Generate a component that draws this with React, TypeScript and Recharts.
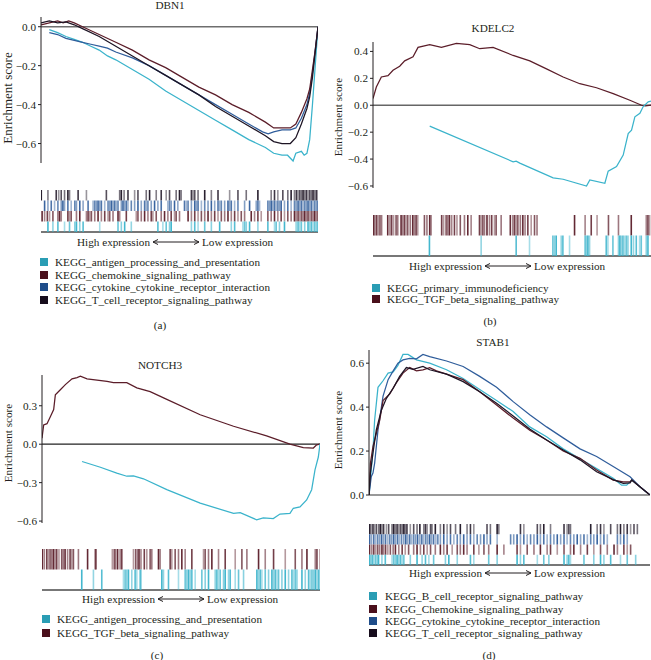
import React from 'react';
import { LineChart, Line, XAxis, YAxis, ReferenceLine, ScatterChart, Scatter } from 'recharts';

// x = position in the ranked gene list (% of list), y = running enrichment score
type Pt = [number, number];

const DBN1_ANTIGEN: Pt[] = [[3, -0.015], [6, -0.03], [9, -0.05], [12, -0.065], [15, -0.08], [18, -0.1], [21, -0.12], [24, -0.15], [27, -0.17], [33, -0.22], [39, -0.27], [45, -0.33], [51, -0.38], [57, -0.43], [63, -0.48], [69, -0.53], [75, -0.58], [81, -0.62], [84, -0.65], [87, -0.66], [89, -0.66], [91, -0.69], [92, -0.65], [94, -0.64], [95, -0.66], [96, -0.65], [97, -0.58], [98, -0.4], [99, -0.2], [100, 0]];
const DBN1_CHEMOKINE: Pt[] = [[0, 0.01], [3, 0.02], [6, 0.03], [8, 0.02], [10, 0.03], [12, 0.02], [15, 0], [21, -0.04], [27, -0.08], [33, -0.12], [39, -0.17], [45, -0.21], [51, -0.26], [57, -0.31], [63, -0.35], [69, -0.4], [75, -0.44], [81, -0.49], [84, -0.52], [87, -0.52], [90, -0.52], [92, -0.5], [94, -0.44], [96, -0.37], [97, -0.32], [98, -0.22], [99, -0.12], [100, 0]];
const DBN1_CYTOKINE: Pt[] = [[3, -0.03], [6, -0.04], [9, -0.06], [12, -0.07], [15, -0.08], [18, -0.09], [21, -0.1], [24, -0.11], [27, -0.13], [33, -0.16], [39, -0.2], [45, -0.25], [51, -0.3], [57, -0.35], [63, -0.4], [69, -0.45], [75, -0.5], [80, -0.54], [82, -0.55], [84, -0.54], [87, -0.53], [90, -0.53], [92, -0.52], [94, -0.47], [96, -0.4], [97, -0.34], [98, -0.24], [99, -0.12], [100, 0]];
const DBN1_TCELL: Pt[] = [[0, 0.02], [3, 0.03], [6, 0.02], [9, 0.025], [12, 0.01], [15, -0.01], [21, -0.05], [27, -0.1], [33, -0.15], [39, -0.2], [45, -0.25], [51, -0.3], [57, -0.35], [63, -0.41], [69, -0.46], [75, -0.51], [81, -0.56], [84, -0.59], [87, -0.6], [90, -0.6], [92, -0.57], [94, -0.5], [96, -0.42], [97, -0.36], [98, -0.26], [99, -0.13], [100, 0]];

const KDELC2_IMMUNO: Pt[] = [[20.4, -0.155], [50.4, -0.42], [51.5, -0.415], [52.8, -0.43], [64.8, -0.54], [68.4, -0.55], [76.8, -0.6], [78, -0.555], [83.4, -0.58], [84.6, -0.49], [87.6, -0.455], [90, -0.37], [91.8, -0.21], [93, -0.185], [94.2, -0.086], [96, -0.06], [97.2, -0.01], [99, 0.025], [100, 0.03]];
const KDELC2_TGF: Pt[] = [[0, 0.05], [1.2, 0.135], [3, 0.21], [5.4, 0.22], [7.2, 0.26], [9.6, 0.29], [11.4, 0.33], [14.4, 0.36], [16.2, 0.43], [20.4, 0.45], [24.6, 0.43], [30, 0.46], [34.8, 0.45], [38.4, 0.42], [43.2, 0.43], [50.4, 0.37], [56.4, 0.33], [62.4, 0.27], [68.4, 0.21], [74.4, 0.16], [80.4, 0.13], [86.4, 0.086], [92.4, 0.037], [96.6, 0], [98, -0.005], [100, 0]];

const NOTCH3_ANTIGEN: Pt[] = [[14.4, -0.135], [21, -0.18], [26.9, -0.226], [30.5, -0.25], [32.9, -0.247], [36.5, -0.27], [44.9, -0.355], [56.9, -0.46], [68.9, -0.54], [71.3, -0.535], [77.2, -0.59], [79.6, -0.575], [83.2, -0.58], [85.6, -0.545], [89.2, -0.54], [90.4, -0.5], [92.8, -0.49], [95.2, -0.435], [97, -0.355], [98.2, -0.2], [99.4, -0.1], [100, 0]];
const NOTCH3_TGF: Pt[] = [[0, 0.047], [0.6, 0.15], [1.8, 0.16], [3, 0.215], [4.2, 0.27], [4.8, 0.385], [6.6, 0.425], [8.4, 0.465], [10.8, 0.51], [12.6, 0.52], [13.8, 0.53], [16.2, 0.51], [19.8, 0.5], [23.4, 0.49], [25.7, 0.48], [30.5, 0.48], [34.1, 0.44], [38.9, 0.41], [44.9, 0.35], [56.9, 0.23], [68.9, 0.14], [80.8, 0.065], [89.2, 0], [94, -0.026], [97.6, -0.03], [98.8, -0.005], [100, 0]];

const STAB1_BCELL: Pt[] = [[0, 0], [0.8, 0.115], [1.4, 0.2], [2, 0.34], [3.2, 0.49], [5, 0.52], [6.8, 0.555], [8.6, 0.56], [10.3, 0.59], [12.1, 0.64], [13.9, 0.64], [16.9, 0.615], [21.6, 0.6], [27.6, 0.57], [33.5, 0.53], [39.4, 0.48], [45.4, 0.43], [51.3, 0.38], [57.2, 0.31], [63.2, 0.265], [69.1, 0.21], [75.1, 0.165], [81, 0.12], [86.9, 0.076], [89.9, 0.045], [91.7, 0.045], [93.5, 0.068], [96.4, 0.038], [100, 0]];
const STAB1_CHEMOKINE: Pt[] = [[0, 0], [0.5, 0.144], [1.4, 0.22], [2.6, 0.28], [3.8, 0.34], [5, 0.43], [7.4, 0.46], [9.7, 0.51], [12.1, 0.555], [14.5, 0.58], [16.9, 0.565], [19.2, 0.57], [21.6, 0.58], [24, 0.565], [27.6, 0.55], [33.5, 0.525], [39.4, 0.47], [45.4, 0.41], [51.3, 0.35], [57.2, 0.295], [63.2, 0.25], [69.1, 0.2], [75.1, 0.167], [81, 0.114], [86.9, 0.068], [90.5, 0.06], [92.9, 0.06], [93.5, 0.068], [96.4, 0.038], [100, 0]];
const STAB1_CYTOKINE: Pt[] = [[0, 0], [0.8, 0.083], [1.4, 0.1], [2, 0.144], [3.2, 0.296], [5, 0.45], [6.8, 0.525], [8.6, 0.565], [10.3, 0.6], [12.1, 0.615], [14.5, 0.622], [16.9, 0.62], [19.2, 0.64], [21.6, 0.63], [27.6, 0.61], [33.5, 0.585], [39.4, 0.54], [45.4, 0.49], [51.3, 0.425], [57.2, 0.365], [63.2, 0.31], [69.1, 0.26], [75.1, 0.21], [81, 0.175], [86.9, 0.13], [92.9, 0.083], [96.4, 0.038], [100, 0]];
const STAB1_TCELL: Pt[] = [[0, 0], [0.5, 0.1], [1.4, 0.19], [2.6, 0.296], [4.4, 0.386], [6.2, 0.44], [8.6, 0.486], [10.9, 0.54], [13.3, 0.58], [15.7, 0.572], [19.2, 0.585], [21.6, 0.57], [27.6, 0.55], [33.5, 0.516], [39.4, 0.47], [45.4, 0.418], [51.3, 0.36], [57.2, 0.3], [63.2, 0.25], [69.1, 0.205], [75.1, 0.16], [81, 0.106], [86.9, 0.07], [90.5, 0.053], [92.9, 0.055], [93.5, 0.068], [96.4, 0.038], [100, 0]];

// hit positions of each gene set in the ranked list (%)
const DBN1_HITS_TCELL = [0.1, 2.5, 5.5, 6.4, 7.3, 8.5, 9.7, 10.3, 13.4, 16.4, 23.6, 28.4, 29, 30, 31.4, 33.8, 35, 38, 39.2, 41.6, 43.4, 45.2, 46.4, 48.8, 50, 50.6, 54.3, 54.9, 55.5, 56.7, 59.1, 61.5, 63.9, 68.1, 71.1, 74.1, 78.3, 83.1, 84.3, 85.5, 87.3, 89.1, 90.3, 91.5, 92.2, 92.8, 93.4, 94, 94.6, 95.2, 95.8, 96.4, 97, 97.6, 98.2, 98.8, 99.4, 100];
const DBN1_HITS_CYTOKINE = [1.3, 2.5, 3.7, 4.9, 6.1, 7.3, 7.9, 8.5, 9.7, 10.9, 12.2, 12.8, 14, 15.2, 17, 18.8, 19.4, 20, 20.6, 21.2, 21.8, 23, 24.2, 24.8, 25.4, 26, 26.6, 27.2, 27.8, 29, 29.6, 30.2, 30.8, 31.4, 32.6, 33.8, 35, 36.2, 37.4, 38, 38.6, 39.8, 41, 42.2, 43.4, 45.8, 46.4, 47, 48.2, 49.4, 51.8, 52.5, 53.1, 54.3, 55.5, 56.1, 56.7, 57.9, 59.1, 60.3, 61.5, 62.7, 63.9, 64.5, 65.1, 66.3, 67.5, 68.1, 68.7, 69.9, 71.1, 73.5, 75.3, 77.7, 78.3, 78.9, 81.9, 82.5, 83.1, 83.7, 84.3, 84.9, 85.5, 86.1, 86.7, 87.9, 89.1, 90.3, 91.5, 92.1, 92.8, 93.4, 94, 94.6, 95.2, 95.8, 96.4, 97, 97.6, 98.2, 98.8, 99.4, 100];
const DBN1_HITS_CHEMOKINE = [0.4, 1.3, 2.3, 3.1, 4.3, 6.1, 6.7, 7.3, 9.7, 10.3, 10.9, 12.8, 14, 16.4, 17, 17.6, 18.2, 19.4, 20.6, 21.8, 23, 24.2, 24.8, 26, 27.8, 28.4, 30.8, 34.4, 35, 36.2, 37.4, 38.6, 39.8, 40.4, 41.6, 43.4, 44.6, 45.8, 47, 48.2, 48.8, 50, 53.1, 54.3, 55.5, 56.7, 57.9, 59.1, 60.3, 61.5, 62.7, 63.9, 65.1, 66.3, 67.5, 68.7, 69.9, 71.1, 72.3, 73.5, 75.9, 77.1, 78.3, 79.5, 81.9, 83.1, 84.3, 85.5, 86.7, 87.9, 89.1, 90.3, 91.5, 92.1, 92.8, 93.4, 94, 94.6, 95.2, 95.8, 96.4, 97, 97.6, 98.2, 98.8, 99.4, 100];
const DBN1_HITS_ANTIGEN = [2.5, 4.3, 6.1, 8.5, 10.3, 12.2, 12.8, 14, 15.2, 21.2, 27.8, 29, 30.2, 32.6, 42.2, 44, 45.2, 46.4, 47, 54.3, 55.5, 56.7, 59.1, 61.5, 64.5, 68.7, 69.9, 72.9, 73.5, 74.1, 75.3, 78.3, 81.9, 84.3, 84.9, 86.1, 87.9, 92.1, 92.8, 93.4, 94, 95.2, 96.4, 97, 97.6, 98.2, 98.8, 99.4, 100];

const KDELC2_HITS_TGF = [0.2, 0.7, 1.3, 1.9, 2.5, 3.1, 5.3, 6.1, 6.7, 7.4, 8.3, 8.9, 10.1, 10.7, 11.3, 11.9, 12.5, 13.4, 14.3, 14.9, 15.5, 16.1, 18.5, 19.4, 20.4, 20.9, 24.7, 25.4, 26.3, 26.9, 27.5, 28.3, 29.3, 30.2, 31.4, 32.9, 34.1, 35.3, 38.3, 38.9, 39.5, 40.1, 41, 41.9, 42.7, 43.7, 44.3, 46.1, 49.4, 50.3, 50.9, 51.5, 52.1, 53, 53.9, 54.7, 55.7, 56.9, 58.1, 59, 72.5, 76.3, 78.5, 80.6, 84.7, 88.3, 92.9, 98.3, 98.9, 99.5];
const KDELC2_HITS_IMMUNO = [20.3, 38.9, 51.5, 56.3, 64.7, 65.3, 65.9, 67.7, 68.3, 70.7, 76.3, 76.8, 77.3, 77.9, 83.9, 84.5, 86.3, 88.3, 88.8, 89.3, 89.9, 90.5, 91.1, 91.7, 92.9, 93.7, 94.7, 95.9, 96.5, 98.3, 98.9];

const NOTCH3_HITS_TGF = [0.1, 0.8, 1.7, 2.3, 2.9, 3.5, 4.1, 4.7, 5.3, 6.1, 7.1, 7.7, 8.3, 9.2, 10.1, 10.7, 11.3, 13.1, 16.4, 19.1, 19.4, 25.3, 26, 26.5, 27.2, 28.1, 28.7, 32.9, 33.7, 34.4, 34.9, 35.6, 36.8, 37.7, 38.9, 39.5, 41.9, 42.5, 46.1, 46.7, 47.9, 49.1, 50.3, 51.5, 53.9, 58.1, 58.7, 59.9, 61.1, 63.5, 65.9, 69.5, 71.9, 73.7, 77.9, 80.3, 83.3, 87.5, 91.1, 93.5, 95.3, 98.3, 98.9, 100];
const NOTCH3_HITS_ANTIGEN = [14.3, 18.5, 21.5, 29.3, 29.9, 30.5, 31.1, 32.3, 33.5, 34.1, 35.3, 35.6, 43.1, 43.7, 45.5, 49.1, 51.5, 52.1, 52.7, 53.3, 53.9, 55.1, 57.5, 58.7, 59.9, 62.3, 62.9, 63.5, 64.1, 65.3, 65.9, 67.1, 67.7, 69.5, 70.7, 72.5, 77.3, 77.9, 78.5, 79.1, 80.3, 81.5, 82.7, 83.3, 83.9, 84.5, 85.1, 86.3, 87.5, 88.7, 89.9, 90.5, 91.1, 91.7, 93.5, 94.7, 95.9, 96.5, 97.1, 97.7, 98.3, 98.9, 99.5, 100];

const STAB1_HITS_TCELL = [0.2, 0.7, 1.4, 1.9, 2.6, 3.4, 4, 4.6, 5.2, 6.2, 7, 8.2, 8.8, 9.4, 10, 10.6, 11.2, 11.8, 12.4, 12.9, 13.5, 14.7, 15.9, 17.1, 18.1, 19.5, 20.1, 20.7, 21.9, 22.4, 23.6, 25.4, 26.6, 27.8, 29, 30.8, 32.5, 34.9, 36.1, 37.3, 42, 43.2, 45.6, 46.2, 53.9, 55.1, 59.9, 61, 62.2, 64.6, 69.4, 70.5, 71.1, 71.7, 78.9, 81.2, 82.4, 83.6, 86, 88.4, 89.5, 90.7, 91.9, 93.1, 94.3, 95.5];
const STAB1_HITS_CYTOKINE = [0.2, 0.9, 1.7, 2.4, 3.1, 3.8, 4.5, 5.2, 5.9, 6.7, 7.4, 8.1, 8.8, 9.5, 10.2, 10.9, 11.6, 12.4, 13.1, 13.8, 14.5, 15.2, 15.9, 16.6, 17.3, 18.1, 18.8, 19.5, 20.2, 20.9, 21.6, 22.3, 23, 23.8, 24.5, 25.4, 26.6, 27.8, 29, 30.2, 31.4, 32.5, 33.7, 34.9, 36.1, 37.3, 38.5, 39.7, 40.9, 42, 43.2, 45.6, 50.4, 51.5, 52.7, 53.9, 55.1, 56.3, 57.5, 58.7, 59.9, 61, 62.2, 63.4, 64.6, 65.8, 67, 68.2, 69.4, 70.5, 71.7, 72.9, 74.1, 75.3, 76.5, 77.7, 78.9, 80, 81.2, 82.4, 83.6, 84.8, 88.4, 89.5, 90.7, 91.9];
const STAB1_HITS_CHEMOKINE = [0.2, 1, 1.7, 2.4, 3.1, 3.8, 4.6, 5.2, 5.9, 6.7, 7.6, 8.6, 9.4, 10.6, 11.8, 12.9, 14.1, 15.9, 17.1, 18.3, 19.5, 20.7, 21.9, 23.6, 25.4, 26.6, 27.8, 29.6, 31.4, 32.5, 33.7, 34.9, 37.3, 39.1, 40.9, 42.6, 45.6, 48, 52.7, 53.9, 56.3, 58.7, 61, 63.4, 64.6, 67, 69.4, 71.7, 72.9, 75.3, 77.7, 80, 82.4, 84.8, 87.2, 88.4, 90.7, 91.9, 93.1];
const STAB1_HITS_BCELL = [0.2, 0.7, 1.2, 1.7, 2.3, 2.9, 3.4, 4.6, 5.8, 8.2, 8.8, 9.4, 10, 10.6, 11.2, 11.8, 12.4, 14.7, 17.1, 18.9, 20.1, 21.3, 23, 27.2, 28.4, 31.4, 36.1, 37.3, 42.6, 45.6, 52.7, 53.9, 55.1, 59.9, 62.2, 64, 69.4, 70.5, 71.1, 71.7, 76.5, 80, 82.4, 83.6, 86, 89.5, 91.9, 94.9];

const NAMES_A = ['KEGG_antigen_processing_and_presentation', 'KEGG_chemokine_signaling_pathway', 'KEGG_cytokine_cytokine_receptor_interaction', 'KEGG_T_cell_receptor_signaling_pathway'];
const NAMES_B = ['KEGG_primary_immunodeficiency', 'KEGG_TGF_beta_signaling_pathway'];
const NAMES_C = ['KEGG_antigen_processing_and_presentation', 'KEGG_TGF_beta_signaling_pathway'];
const NAMES_D = ['KEGG_B_cell_receptor_signaling_pathway', 'KEGG_Chemokine_signaling_pathway', 'KEGG_cytokine_cytokine_receptor_interaction', 'KEGG_T_cell_receptor_signaling_pathway'];

const FONT = '"Liberation Serif", "Times New Roman", serif';
const INK = '#231f20';

const CYAN = '#3ab3cb';
const RED = '#5b1d29';
const BLUE = '#2f5d9b';
const BLACK = '#1d1424';
const KEY_COLORS = ['#2a9db4', '#4a0f1b', '#1f4d8a', '#160c1c'];

const SHADES = [0.95, 0.55, 0.85, 0.45, 0.75, 0.6];

const fmt = (v: number) => (v < 0 ? '\u2212' : '') + Math.abs(v).toFixed(1);
const toRows = (pts: Pt[]) => pts.map(([x, y]) => ({ x, y }));

interface Series { pts: Pt[]; color: string }

function EsPanel(props: {
  left: number; top: number; width: number; height: number;
  margin: { top: number; right: number; bottom: number; left: number };
  axisWidth: number; domain: [number, number]; ticks: number[];
  zero: string; series: Series[];
}) {
  const { left, top, width, height, margin, axisWidth, domain, ticks, zero, series } = props;
  return (
    <div style={{ position: 'absolute', left, top }}>
      <LineChart width={width} height={height} margin={margin}>
        <XAxis type="number" dataKey="x" domain={[0, 100]} hide allowDataOverflow />
        <YAxis
          type="number"
          domain={domain}
          ticks={ticks}
          interval={0}
          allowDataOverflow
          width={axisWidth}
          tickFormatter={fmt}
          tickSize={3}
          tickMargin={2}
          axisLine={{ stroke: INK }}
          tickLine={{ stroke: INK }}
          tick={{ fontSize: 11.2, fill: INK, fontFamily: FONT }}
        />
        <ReferenceLine y={0} stroke={zero} strokeWidth={1.3} />
        {series.map((s, i) => (
          <Line
            key={i}
            data={toRows(s.pts)}
            dataKey="y"
            type="linear"
            stroke={s.color}
            strokeWidth={1.25}
            dot={false}
            isAnimationActive={false}
          />
        ))}
      </LineChart>
    </div>
  );
}

function HitStrip(props: {
  left: number; top: number; width: number; height: number;
  margin: { top: number; right: number; bottom: number; left: number };
  rows: { hits: number[]; color: string }[];
}) {
  const { left, top, width, height, margin, rows } = props;
  const n = rows.length;
  const rowH = (height - margin.top - margin.bottom) / n;
  return (
    <div style={{ position: 'absolute', left, top }}>
      <ScatterChart width={width} height={height} margin={margin}>
        <XAxis type="number" dataKey="x" domain={[0, 100]} hide allowDataOverflow />
        <YAxis type="number" dataKey="row" domain={[0, n]} hide allowDataOverflow />
        {rows.map((r, ri) => (
          <Scatter
            key={ri}
            data={r.hits.map((x, i) => ({ x, row: n - ri - 0.5, o: SHADES[i % SHADES.length] }))}
            isAnimationActive={false}
            shape={(p: any) => (
              <rect x={p.cx - 0.8} y={p.cy - rowH / 2} width={1.6} height={rowH} fill={r.color} fillOpacity={p.payload.o} />
            )}
          />
        ))}
        <ReferenceLine y={0} stroke="#4a4a4a" strokeWidth={1.3} />
      </ScatterChart>
    </div>
  );
}

const textBase: React.CSSProperties = { position: 'absolute', fontFamily: FONT, fontSize: 11.2, color: INK, whiteSpace: 'nowrap', lineHeight: '12px' };

function Centered({ x, y, children }: { x: number; y: number; children: React.ReactNode }) {
  return <div style={{ ...textBase, left: x, top: y - 6, transform: 'translateX(-50%)' }}>{children}</div>;
}

function YLabel({ x, y, size = 11.2 }: { x: number; y: number; size?: number }) {
  return (
    <div style={{ ...textBase, fontSize: size, left: x, top: y, transform: 'translate(-50%, -50%) rotate(-90deg)' }}>
      Enrichment score
    </div>
  );
}

function Expression({ x, y }: { x: number; y: number }) {
  return (
    <div style={{ ...textBase, left: x, top: y - 6, display: 'flex', alignItems: 'center' }}>
      <span>High expression</span>
      <svg width={48} height={8} style={{ margin: '0 2px' }}>
        <path d="M1 4 H47 M1 4 L6 1.5 M1 4 L6 6.5 M47 4 L42 1.5 M47 4 L42 6.5" stroke={INK} strokeWidth={1} fill="none" />
      </svg>
      <span>Low expression</span>
    </div>
  );
}

function Key({ x, tx, ys, names, colors }: { x: number; tx: number; ys: number[]; names: string[]; colors: string[] }) {
  return (
    <>
      {names.map((n, i) => (
        <React.Fragment key={n + i}>
          <div style={{ position: 'absolute', left: x, top: ys[i] - 4, width: 8, height: 8, background: colors[i] }} />
          <div style={{ ...textBase, left: tx, top: ys[i] - 6 }}>{n}</div>
        </React.Fragment>
      ))}
    </>
  );
}

export default function App() {
  return (
    <div style={{ position: 'absolute', left: 0, top: 0, width: 651, height: 660, background: '#fff', overflow: 'hidden' }}>
      {/* (a) DBN1 */}
      <Centered x={170} y={5}>DBN1</Centered>
      <YLabel x={8} y={98} size={13} />
      <EsPanel
        left={0} top={0} width={330} height={170}
        margin={{ top: 17, right: 12, bottom: 7, left: 11 }} axisWidth={30}
        domain={[-0.7, 0.05]} ticks={[-0.6, -0.4, -0.2, 0]} zero="#6e6e6e"
        series={[
          { pts: DBN1_ANTIGEN, color: CYAN },
          { pts: DBN1_CYTOKINE, color: BLUE },
          { pts: DBN1_CHEMOKINE, color: RED },
          { pts: DBN1_TCELL, color: BLACK },
        ]}
      />
      <HitStrip
        left={0} top={185} width={330} height={50}
        margin={{ top: 5, right: 12, bottom: 3, left: 41 }}
        rows={[
          { hits: DBN1_HITS_TCELL, color: BLACK },
          { hits: DBN1_HITS_CYTOKINE, color: BLUE },
          { hits: DBN1_HITS_CHEMOKINE, color: RED },
          { hits: DBN1_HITS_ANTIGEN, color: CYAN },
        ]}
      />
      <Expression x={77} y={242} />
      <Key x={40} tx={55} ys={[262, 274.5, 287, 299.5]} names={NAMES_A} colors={KEY_COLORS} />
      <Centered x={160} y={325}>(a)</Centered>

      {/* (b) KDELC2 */}
      <Centered x={493} y={28}>KDELC2</Centered>
      <YLabel x={338} y={117} />
      <EsPanel
        left={330} top={0} width={321} height={195}
        margin={{ top: 42, right: 0, bottom: 7, left: 11 }} axisWidth={32}
        domain={[-0.615, 0.47]} ticks={[-0.6, -0.4, -0.2, 0, 0.2, 0.4]} zero="#666"
        series={[
          { pts: KDELC2_TGF, color: RED },
          { pts: KDELC2_IMMUNO, color: CYAN },
        ]}
      />
      <HitStrip
        left={330} top={210} width={321} height={50}
        margin={{ top: 5, right: 0, bottom: 4, left: 43 }}
        rows={[
          { hits: KDELC2_HITS_TGF, color: RED },
          { hits: KDELC2_HITS_IMMUNO, color: CYAN },
        ]}
      />
      <Expression x={409} y={266} />
      <Key x={372} tx={387} ys={[288, 299]} names={NAMES_B} colors={[KEY_COLORS[0], KEY_COLORS[1]]} />
      <Centered x={490} y={321}>(b)</Centered>

      {/* (c) NOTCH3 */}
      <Centered x={160} y={365}>NOTCH3</Centered>
      <YLabel x={8} y={443} />
      <EsPanel
        left={0} top={330} width={330} height={200}
        margin={{ top: 45, right: 10, bottom: 7, left: 11 }} axisWidth={31}
        domain={[-0.615, 0.54]} ticks={[-0.6, -0.3, 0, 0.3]} zero="#222"
        series={[
          { pts: NOTCH3_TGF, color: RED },
          { pts: NOTCH3_ANTIGEN, color: CYAN },
        ]}
      />
      <HitStrip
        left={0} top={544} width={330} height={50}
        margin={{ top: 5, right: 10, bottom: 4, left: 42 }}
        rows={[
          { hits: NOTCH3_HITS_TGF, color: RED },
          { hits: NOTCH3_HITS_ANTIGEN, color: CYAN },
        ]}
      />
      <Expression x={82} y={599} />
      <Key x={42} tx={57} ys={[619, 633]} names={NAMES_C} colors={[KEY_COLORS[0], KEY_COLORS[1]]} />
      <Centered x={157} y={655}>(c)</Centered>

      {/* (d) STAB1 */}
      <Centered x={493} y={342}>STAB1</Centered>
      <YLabel x={338} y={430} />
      <EsPanel
        left={330} top={330} width={321} height={170}
        margin={{ top: 20, right: 1, bottom: 5, left: 11 }} axisWidth={28}
        domain={[0, 0.66]} ticks={[0, 0.2, 0.4, 0.6]} zero="#777"
        series={[
          { pts: STAB1_BCELL, color: CYAN },
          { pts: STAB1_CYTOKINE, color: BLUE },
          { pts: STAB1_CHEMOKINE, color: RED },
          { pts: STAB1_TCELL, color: BLACK },
        ]}
      />
      <HitStrip
        left={330} top={520} width={321} height={50}
        margin={{ top: 4, right: 1, bottom: 5, left: 39 }}
        rows={[
          { hits: STAB1_HITS_TCELL, color: BLACK },
          { hits: STAB1_HITS_CYTOKINE, color: BLUE },
          { hits: STAB1_HITS_CHEMOKINE, color: RED },
          { hits: STAB1_HITS_BCELL, color: CYAN },
        ]}
      />
      <Expression x={409} y={573} />
      <Key x={369} tx={385} ys={[596, 608.5, 620.5, 633]} names={NAMES_D} colors={KEY_COLORS} />
      <Centered x={489} y={655}>(d)</Centered>
    </div>
  );
}
